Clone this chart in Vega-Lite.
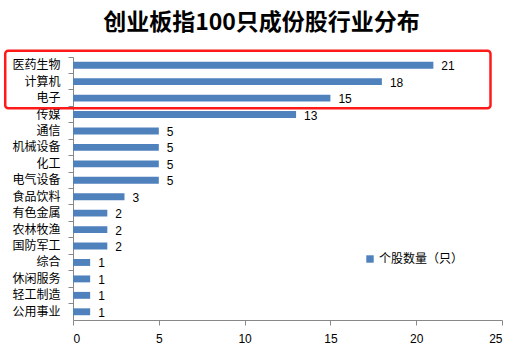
{
  "$schema": "https://vega.github.io/schema/vega-lite/v6.json",
  "width": 429,
  "height": 263,
  "autosize": {"type": "none"},
  "padding": {"left": 73, "top": 57, "right": 20, "bottom": 34},
  "background": "white",
  "title": {
    "text": "创业板指100只成份股行业分布",
    "font": "Noto Sans CJK SC",
    "fontSize": 23,
    "fontWeight": "bold",
    "color": "#000000",
    "anchor": "middle",
    "dx": -26,
    "offset": 14
  },
  "config": {
    "view": {"stroke": null},
    "font": "Noto Sans CJK SC"
  },
  "datasets": {
    "bars": [
      {"industry": "医药生物", "count": 21, "series": "个股数量（只）"},
      {"industry": "计算机", "count": 18, "series": "个股数量（只）"},
      {"industry": "电子", "count": 15, "series": "个股数量（只）"},
      {"industry": "传媒", "count": 13, "series": "个股数量（只）"},
      {"industry": "通信", "count": 5, "series": "个股数量（只）"},
      {"industry": "机械设备", "count": 5, "series": "个股数量（只）"},
      {"industry": "化工", "count": 5, "series": "个股数量（只）"},
      {"industry": "电气设备", "count": 5, "series": "个股数量（只）"},
      {"industry": "食品饮料", "count": 3, "series": "个股数量（只）"},
      {"industry": "有色金属", "count": 2, "series": "个股数量（只）"},
      {"industry": "农林牧渔", "count": 2, "series": "个股数量（只）"},
      {"industry": "国防军工", "count": 2, "series": "个股数量（只）"},
      {"industry": "综合", "count": 1, "series": "个股数量（只）"},
      {"industry": "休闲服务", "count": 1, "series": "个股数量（只）"},
      {"industry": "轻工制造", "count": 1, "series": "个股数量（只）"},
      {"industry": "公用事业", "count": 1, "series": "个股数量（只）"}
    ],
    "box": [
      {"x0": -3.95, "x1": 24.33, "c0": "医药生物", "c1": "电子"}
    ]
  },
  "layer": [
    {
      "data": {"name": "bars"},
      "mark": {"type": "bar", "height": {"band": 0.42}},
      "encoding": {
        "y": {
          "field": "industry", "type": "nominal", "sort": null,
          "scale": {"paddingInner": 0, "paddingOuter": 0},
          "axis": {
            "title": null, "domainColor": "#888888", "tickColor": "#888888",
            "tickSize": 5, "bandPosition": 0, "labelFontSize": 12, "labelColor": "#000000",
            "labelPadding": 8
          }
        },
        "x": {
          "field": "count", "type": "quantitative",
          "scale": {"domain": [0, 25], "nice": false},
          "axis": {
            "title": null, "values": [0, 5, 10, 15, 20, 25], "grid": false,
            "domainColor": "#888888", "tickColor": "#888888", "tickSize": 5,
            "labelFontSize": 12, "labelColor": "#000000", "labelPadding": 8,
            "labelFont": "Liberation Sans"
          }
        },
        "color": {
          "field": "series", "type": "nominal",
          "scale": {"range": ["#4F81BD"]},
          "legend": {
            "title": null, "orient": "none", "legendX": 291, "legendY": 196,
            "symbolType": "square", "symbolSize": 55, "labelFontSize": 12,
            "labelColor": "#000000", "symbolStrokeWidth": 0, "labelOffset": 3
          }
        }
      }
    },
    {
      "data": {"name": "bars"},
      "mark": {"type": "text", "align": "left", "dx": 8, "dy": 1, "fontSize": 12, "color": "#000000", "font": "Liberation Sans"},
      "encoding": {
        "y": {"field": "industry", "type": "nominal", "sort": null},
        "x": {"field": "count", "type": "quantitative"},
        "text": {"field": "count", "type": "quantitative"}
      }
    },
    {
      "data": {"name": "box"},
      "mark": {"type": "rect", "filled": false, "stroke": "#FF1A1A", "strokeWidth": 2.5, "cornerRadius": 3, "yOffset": -14.5, "y2Offset": 10.2},
      "encoding": {
        "x": {"field": "x0", "type": "quantitative"},
        "x2": {"field": "x1"},
        "y": {"field": "c0", "type": "nominal", "sort": null},
        "y2": {"field": "c1"}
      }
    }
  ]
}
